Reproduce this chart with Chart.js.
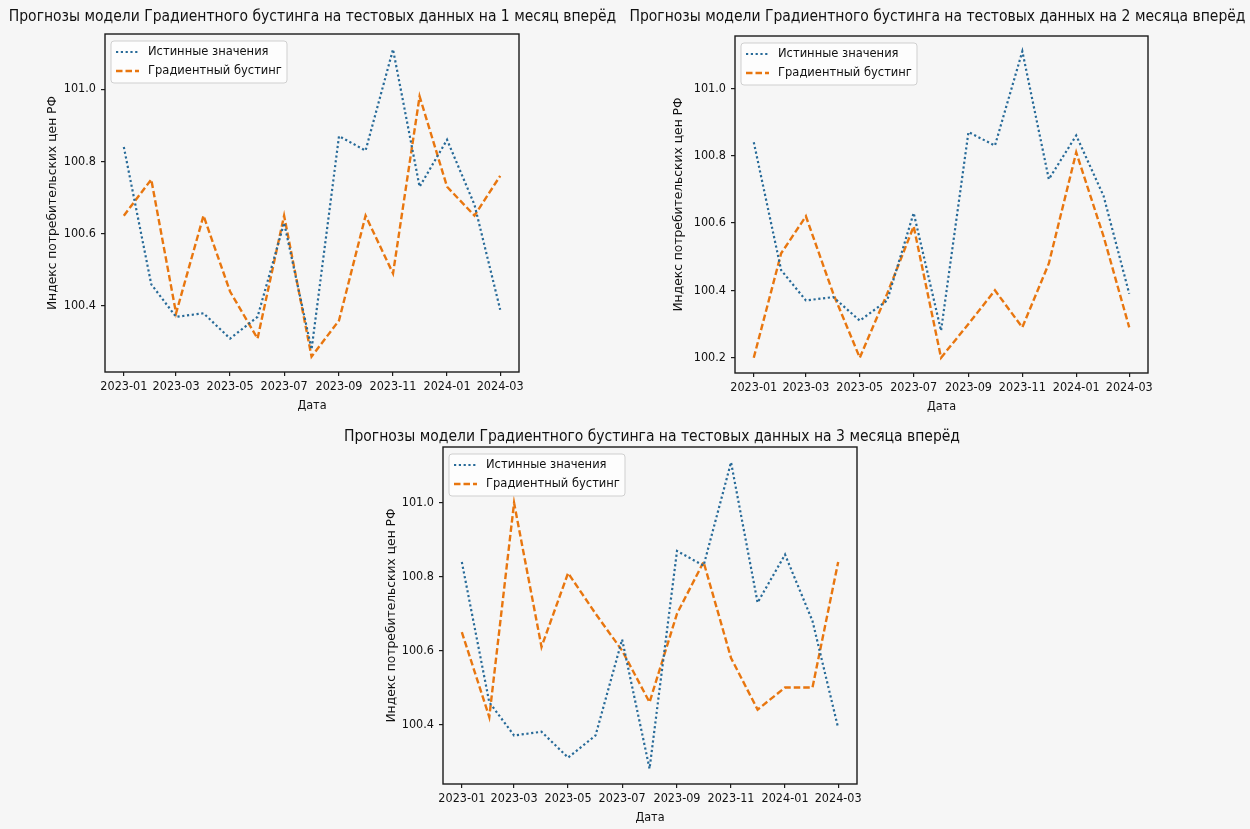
<!DOCTYPE html>
<html>
<head>
<meta charset="utf-8">
<script src="https://cdn.jsdelivr.net/npm/chart.js@4.4.1/dist/chart.umd.min.js"></script>
<style>
  html, body { margin: 0; padding: 0; background: #f6f6f6; }
  body { width: 1250px; height: 829px; position: relative; overflow: hidden; }
  canvas { position: absolute; }
</style>
</head>
<body>
<canvas id="chartH1" style="left:0px;top:0px" width="625" height="420"></canvas>
<canvas id="chartH2" style="left:625px;top:0px" width="625" height="420"></canvas>
<canvas id="chartH3" style="left:340px;top:420px" width="624" height="409"></canvas>
<script>
// Monthly test period
const months = ['2023-01', '2023-02', '2023-03', '2023-04', '2023-05', '2023-06', '2023-07',
                '2023-08', '2023-09', '2023-10', '2023-11', '2023-12', '2024-01', '2024-02', '2024-03'];

// Actual CPI (index, previous month = 100)
const actualCpi = [100.84, 100.46, 100.37, 100.38, 100.31, 100.37, 100.63, 100.28,
                   100.87, 100.83, 101.11, 100.73, 100.86, 100.68, 100.39];

// Gradient boosting forecasts for 1, 2 and 3 months ahead
const boostH1 = [100.65, 100.75, 100.38, 100.65, 100.44, 100.31, 100.65, 100.26,
                 100.36, 100.65, 100.49, 100.98, 100.73, 100.65, 100.76];
const boostH2 = [100.20, 100.51, 100.62, 100.39, 100.20, 100.39, 100.59, 100.20,
                 100.30, 100.40, 100.29, 100.48, 100.81, 100.56, 100.29];
const boostH3 = [100.65, 100.42, 101.00, 100.61, 100.81, 100.70, 100.60, 100.46,
                 100.70, 100.84, 100.58, 100.44, 100.50, 100.50, 100.84];

const xTickLabels = ['2023-01', '2023-03', '2023-05', '2023-07', '2023-09', '2023-11', '2024-01', '2024-03'];
const yTickValues = [100.2, 100.4, 100.6, 100.8, 101.0];

const seriesNames = ['Истинные значения', 'Градиентный бустинг'];
const chartTitles = [
  'Прогнозы модели Градиентного бустинга на тестовых данных на 1 месяц вперёд',
  'Прогнозы модели Градиентного бустинга на тестовых данных на 2 месяца вперёд',
  'Прогнозы модели Градиентного бустинга на тестовых данных на 3 месяца вперёд'
];
const xAxisTitle = 'Дата';
const yAxisTitle = 'Индекс потребительских цен РФ';

// ---- helpers ----
const DAY = 86400000;
function monthToDay(label) {
  const [y, m] = label.split('-').map(Number);
  return Date.UTC(y, m - 1, 1) / DAY;
}
function dayToMonth(day) {
  const d = new Date(day * DAY);
  return d.getUTCFullYear() + '-' + String(d.getUTCMonth() + 1).padStart(2, '0');
}
function toPoints(values) {
  return values.map((v, i) => ({ x: monthToDay(months[i]), y: v }));
}

const TEXT = '#111111';
const FRAME = '#1b1b1b';
const COND = '"DejaVu Sans Condensed", "DejaVu Sans", sans-serif';
const NORM = '"DejaVu Sans", sans-serif';

// Axes frame, legend box and figure title
const decorations = {
  id: 'decorations',
  afterDatasetsDraw(chart, args, opts) {
    const { ctx, chartArea: a } = chart;
    ctx.save();
    // frame
    ctx.strokeStyle = FRAME;
    ctx.lineWidth = 1.4;
    ctx.setLineDash([]);
    ctx.strokeRect(a.left, a.top, a.right - a.left, a.bottom - a.top);

    // legend
    const bx = a.left + 6, by = a.top + 7, bw = 176, bh = 42, r = 3;
    ctx.beginPath();
    ctx.moveTo(bx + r, by);
    ctx.arcTo(bx + bw, by, bx + bw, by + bh, r);
    ctx.arcTo(bx + bw, by + bh, bx, by + bh, r);
    ctx.arcTo(bx, by + bh, bx, by, r);
    ctx.arcTo(bx, by, bx + bw, by, r);
    ctx.closePath();
    ctx.fillStyle = 'rgba(255,255,255,0.8)';
    ctx.fill();
    ctx.strokeStyle = '#cfcfcf';
    ctx.lineWidth = 1;
    ctx.stroke();

    ctx.font = '12.8px ' + COND;
    ctx.textBaseline = 'middle';
    ctx.textAlign = 'left';
    chart.data.datasets.forEach((ds, i) => {
      const y = by + 11 + i * 19;
      ctx.beginPath();
      ctx.setLineDash(ds.borderDash || []);
      ctx.strokeStyle = ds.borderColor;
      ctx.lineWidth = ds.borderWidth;
      ctx.moveTo(bx + 5, y);
      ctx.lineTo(bx + 28, y);
      ctx.stroke();
      ctx.setLineDash([]);
      ctx.fillStyle = TEXT;
      ctx.fillText(ds.label, bx + 37, y);
    });

    // title
    ctx.font = '15.5px ' + COND;
    ctx.textAlign = 'center';
    ctx.textBaseline = 'middle';
    ctx.fillStyle = TEXT;
    ctx.fillText(opts.text, chart.width / 2, opts.y);
    ctx.restore();
  }
};

function makeChart(id, forecast, title, box) {
  const all = actualCpi.concat(forecast);
  const lo = Math.min(...all), hi = Math.max(...all);
  const m = (hi - lo) * 0.05;
  const d0 = monthToDay(months[0]), d1 = monthToDay(months[months.length - 1]);
  const xm = (d1 - d0) * 0.05;

  const canvas = document.getElementById(id);
  return new Chart(canvas, {
    type: 'line',
    data: {
      datasets: [
        {
          label: seriesNames[0],
          data: toPoints(actualCpi),
          borderColor: '#276a98',
          borderWidth: 2.2,
          borderDash: [2.2, 2.6],
          pointRadius: 0,
          tension: 0,
          fill: false
        },
        {
          label: seriesNames[1],
          data: toPoints(forecast),
          borderColor: '#e8760f',
          borderWidth: 2.4,
          borderDash: [6.5, 3],
          pointRadius: 0,
          tension: 0,
          fill: false
        }
      ]
    },
    options: {
      responsive: false,
      animation: false,
      events: [],
      layout: {
        padding: {
          left: 0,
          top: box.top,
          right: canvas.width - box.right,
          bottom: canvas.height - box.bottom - box.xh
        }
      },
      plugins: {
        legend: { display: false },
        title: { display: false },
        tooltip: { enabled: false },
        decorations: { text: title, y: box.titleY }
      },
      scales: {
        x: {
          type: 'linear',
          min: d0 - xm,
          max: d1 + xm,
          border: { display: false },
          grid: { drawOnChartArea: false, drawTicks: true, tickLength: 4, color: FRAME, lineWidth: 1.2 },
          ticks: {
            autoSkip: false,
            maxRotation: 0,
            padding: 3.5,
            color: TEXT,
            font: { family: COND, size: 12.5 },
            callback: (v) => dayToMonth(v)
          },
          afterBuildTicks: (s) => { s.ticks = xTickLabels.map(l => ({ value: monthToDay(l) })); },
          afterFit: (s) => { s.height = box.xh; },
          title: {
            display: true,
            text: xAxisTitle,
            color: TEXT,
            font: { family: COND, size: 12.5 },
            padding: { top: 0, bottom: 0 }
          }
        },
        y: {
          type: 'linear',
          min: lo - m,
          max: hi + m,
          border: { display: false },
          grid: { drawOnChartArea: false, drawTicks: true, tickLength: 4, color: FRAME, lineWidth: 1.2 },
          ticks: {
            padding: 5,
            color: TEXT,
            font: { family: COND, size: 12.5 },
            callback: (v) => Number(v).toFixed(1)
          },
          afterBuildTicks: (s) => {
            s.ticks = yTickValues.filter(v => v >= s.min && v <= s.max).map(v => ({ value: v }));
          },
          afterFit: (s) => { s.width = box.left; },
          title: {
            display: true,
            text: yAxisTitle,
            color: TEXT,
            font: { family: NORM, size: 12.3 },
            padding: { top: box.ylabX - 7.4, bottom: 0 }
          }
        }
      }
    },
    plugins: [decorations]
  });
}

makeChart('chartH1', boostH1, chartTitles[0],
  { left: 105, right: 519, top: 34, bottom: 372, xh: 41, titleY: 17, ylabX: 53 });
makeChart('chartH2', boostH2, chartTitles[1],
  { left: 110, right: 523, top: 36, bottom: 373, xh: 41, titleY: 17, ylabX: 54 });
makeChart('chartH3', boostH3, chartTitles[2],
  { left: 103, right: 517, top: 27, bottom: 364, xh: 41, titleY: 17, ylabX: 52 });
</script>
</body>
</html>
